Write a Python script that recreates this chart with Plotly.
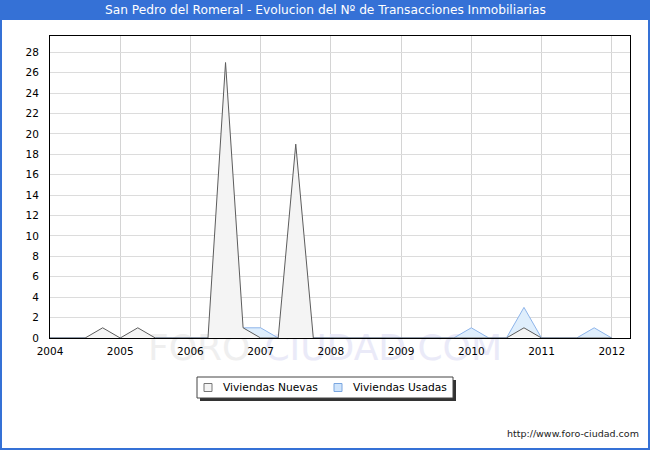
import plotly.graph_objects as go

# quarterly periods, 2004 Q1 .. 2012 Q1
periods = [2004 + q * 0.25 for q in range(33)]

nuevas = [0, 0, 0, 1,
          0, 1, 0, 0,
          0, 0, 27, 1,
          0, 0, 19, 0,
          0, 0, 0, 0,
          0, 0, 0, 0,
          0, 0, 0, 1,
          0, 0, 0, 0,
          0]

usadas = [0, 0, 0, 0,
          0, 0, 0, 0,
          0, 0, 0, 1,
          1, 0, 0, 0,
          0, 0, 0, 0,
          0, 0, 0, 0,
          1, 0, 0, 3,
          0, 0, 0, 1,
          0]

year_ticks = [2004, 2005, 2006, 2007, 2008, 2009, 2010, 2011, 2012]
y_ticks = list(range(0, 30, 2))

title = "San Pedro del Romeral - Evolucion del Nº de Transacciones Inmobiliarias"
series_names = ["Viviendas Nuevas", "Viviendas Usadas"]
blue = "#3571d6"
font = "DejaVu Sans"

W, H = 650, 450
L, R, T, B = 50, 20, 36, 112
pw, ph = W - L - R, H - T - B
x_range = [2004, 2012.26]
y_range = [0, 29.6]


def px_x(x):
    return (x - L) / pw


def px_y(y):
    return (H - B - y) / ph


def data_x(x):
    return x_range[0] + px_x(x) * (x_range[1] - x_range[0])


def data_y(y):
    return y_range[0] + px_y(y) * (y_range[1] - y_range[0])


fig = go.Figure()

# watermark as a text trace so it stays under the tick labels;
# anchor point inside the plot, text hangs below it
fig.add_trace(go.Scatter(
    x=[data_x(325)], y=[data_y(333)], mode="text",
    text=["<span style='color:#efefef'>FORO-</span>"
          "<span style='color:#eaeaf8'>CIUDAD.COM</span>"],
    textposition="bottom center",
    textfont={"family": font, "size": 36, "color": "#eaeaf8"},
    cliponaxis=False, hoverinfo="skip", showlegend=False,
))

fig.add_trace(go.Scatter(
    x=periods, y=usadas, mode="lines", fill="tozeroy",
    line={"color": "#8db4ea", "width": 1},
    fillcolor="#dfeefc",
    name=series_names[1],
))
fig.add_trace(go.Scatter(
    x=periods, y=nuevas, mode="lines", fill="tozeroy",
    line={"color": "#5c5c5c", "width": 1},
    fillcolor="#f4f4f4",
    name=series_names[0],
))

shapes = [
    # title bar
    dict(type="rect", xref="paper", yref="paper", layer="below",
         x0=px_x(0), x1=px_x(W), y0=px_y(0), y1=px_y(20),
         fillcolor=blue, line={"width": 0}),
    # outer frame
    dict(type="rect", xref="paper", yref="paper",
         x0=px_x(1), x1=px_x(W - 1), y0=px_y(1), y1=px_y(H - 1),
         line={"color": blue, "width": 2}),
    # legend shadow
    dict(type="rect", xref="paper", yref="paper",
         x0=px_x(200), x1=px_x(456), y0=px_y(380), y1=px_y(401),
         fillcolor="#333333", line={"width": 0}),
    # legend box
    dict(type="rect", xref="paper", yref="paper",
         x0=px_x(197), x1=px_x(453), y0=px_y(377), y1=px_y(398),
         fillcolor="white", line={"color": "#444444", "width": 1}),
    # legend keys
    dict(type="rect", xref="paper", yref="paper",
         x0=px_x(204), x1=px_x(212), y0=px_y(383.5), y1=px_y(391.5),
         fillcolor="#f4f4f4", line={"color": "#777777", "width": 1}),
    dict(type="rect", xref="paper", yref="paper",
         x0=px_x(334), x1=px_x(342), y0=px_y(383.5), y1=px_y(391.5),
         fillcolor="#cfe4fb", line={"color": "#7aa6e0", "width": 1}),
]

annotations = [
    dict(text=title, xref="paper", yref="paper", x=px_x(325), y=px_y(10),
         xanchor="center", yanchor="middle", showarrow=False,
         font={"family": font, "size": 12.2, "color": "white"}),
    dict(text=series_names[0], xref="paper", yref="paper",
         x=px_x(221), y=px_y(387.5), xanchor="left", yanchor="middle",
         showarrow=False, font={"family": font, "size": 10.7, "color": "black"}),
    dict(text=series_names[1], xref="paper", yref="paper",
         x=px_x(351), y=px_y(387.5), xanchor="left", yanchor="middle",
         showarrow=False, font={"family": font, "size": 10.7, "color": "black"}),
    dict(text="http://www.foro-ciudad.com", xref="paper", yref="paper",
         x=px_x(641), y=px_y(433), xanchor="right", yanchor="middle",
         showarrow=False,
         font={"family": font, "size": 9.5, "color": "#222222"}),
]

fig.update_layout(
    width=W, height=H,
    margin={"l": L, "r": R, "t": T, "b": B},
    paper_bgcolor="white", plot_bgcolor="white",
    font={"family": font, "size": 10.5, "color": "black"},
    showlegend=False,
    shapes=shapes,
    annotations=annotations,
)

fig.update_xaxes(
    range=x_range, tickvals=year_ticks, ticktext=[str(y) for y in year_ticks],
    showgrid=True, gridcolor="#d4d4d4", gridwidth=1,
    showline=True, linecolor="black", linewidth=1, mirror=True,
    zeroline=False, ticks="", ticklabelstandoff=3, fixedrange=True,
)
fig.update_yaxes(
    range=y_range, tickvals=y_ticks,
    showgrid=True, gridcolor="#dcdcdc", gridwidth=1,
    showline=True, linecolor="black", linewidth=1, mirror=True,
    zeroline=False, ticks="", ticklabelstandoff=8, fixedrange=True,
)

fig.write_html("out.html", config={"displayModeBar": False},
               post_script="document.body.style.margin='0';")
